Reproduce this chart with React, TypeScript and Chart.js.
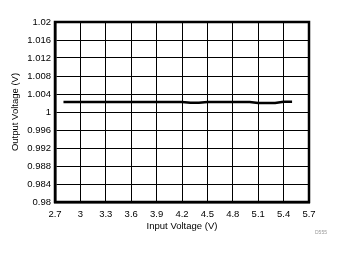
import React, { useEffect, useRef } from "react";
import { Chart, registerables } from "chart.js";

Chart.register(...registerables);

const inputVoltage = [2.8, 2.9, 3.0, 3.1, 3.2, 3.3, 3.4, 3.5, 3.6, 3.7, 3.8, 3.9, 4.0, 4.1, 4.2, 4.3, 4.4, 4.5, 4.6, 4.7, 4.8, 4.9, 5.0, 5.1, 5.2, 5.3, 5.4, 5.5];
const outputVoltage = [1.00222, 1.00222, 1.00222, 1.00222, 1.00222, 1.00222, 1.00222, 1.00222, 1.00222, 1.00222, 1.00222, 1.00222, 1.00222, 1.00222, 1.00222, 1.00207, 1.00207, 1.00222, 1.00222, 1.00222, 1.00222, 1.00222, 1.00222, 1.002, 1.002, 1.002, 1.00229, 1.00229];

const xTicks = [2.7, 3.0, 3.3, 3.6, 3.9, 4.2, 4.5, 4.8, 5.1, 5.4, 5.7];
const xTickLabels = ["2.7", "3", "3.3", "3.6", "3.9", "4.2", "4.5", "4.8", "5.1", "5.4", "5.7"];
const yTicks = [0.98, 0.984, 0.988, 0.992, 0.996, 1.0, 1.004, 1.008, 1.012, 1.016, 1.02];
const yTickLabels = ["0.98", "0.984", "0.988", "0.992", "0.996", "1", "1.004", "1.008", "1.012", "1.016", "1.02"];

const xTitle = "Input Voltage (V)";
const yTitle = "Output Voltage (V)";
const figureId = "D555";

export default function App() {
  const canvasRef = useRef<HTMLCanvasElement | null>(null);

  useEffect(() => {
    document.body.style.margin = "0";
    const canvas = canvasRef.current;
    if (!canvas) return;

    const framePlugin = {
      id: "frame",
      afterDraw(chart: any) {
        const { ctx, chartArea } = chart;
        ctx.save();
        ctx.strokeStyle = "#000";
        ctx.lineWidth = 2.5;
        ctx.strokeRect(chartArea.left, chartArea.top, chartArea.right - chartArea.left, chartArea.bottom - chartArea.top);
        ctx.fillStyle = "#999";
        ctx.font = "5px 'Liberation Sans', Arial, sans-serif";
        ctx.textAlign = "left";
        ctx.textBaseline = "middle";
        ctx.fillText(figureId, 315, 233);
        ctx.restore();
      },
    };

    const chart = new Chart(canvas, {
      type: "line",
      data: {
        datasets: [
          {
            data: inputVoltage.map((x, i) => ({ x, y: outputVoltage[i] })),
            borderColor: "#000",
            borderWidth: 2.5,
            pointRadius: 0,
            tension: 0,
            fill: false,
          },
        ],
      },
      options: {
        animation: false,
        responsive: false,
        maintainAspectRatio: false,
        layout: { padding: { top: 22, right: 34, left: 0, bottom: 0 } },
        plugins: { legend: { display: false }, tooltip: { enabled: false } },
        scales: {
          x: {
            type: "linear",
            min: 2.7,
            max: 5.7,
            afterBuildTicks: (axis: any) => {
              axis.ticks = xTicks.map((v) => ({ value: v }));
            },
            afterFit: (axis: any) => {
              axis.height = 52;
            },
            ticks: {
              color: "#000",
              font: { family: "'Liberation Sans', Arial, sans-serif", size: 9.5 },
              padding: 7,
              maxRotation: 0,
              autoSkip: false,
              callback: (_v: any, i: number) => xTickLabels[i],
            },
            grid: { color: "#000", lineWidth: 1, drawTicks: false },
            border: { display: true, color: "#000", width: 2.5 },
            title: {
              display: true,
              text: xTitle,
              color: "#000",
              font: { family: "'Liberation Sans', Arial, sans-serif", size: 9.5 },
              padding: { top: 0, bottom: 22 },
            },
          },
          y: {
            type: "linear",
            min: 0.98,
            max: 1.02,
            afterBuildTicks: (axis: any) => {
              axis.ticks = yTicks.map((v) => ({ value: v }));
            },
            afterFit: (axis: any) => {
              axis.width = 55;
            },
            ticks: {
              color: "#000",
              font: { family: "'Liberation Sans', Arial, sans-serif", size: 9.5 },
              padding: 4,
              autoSkip: false,
              callback: (_v: any, i: number) => yTickLabels[i],
            },
            grid: { color: "#000", lineWidth: 1, drawTicks: false },
            border: { display: true, color: "#000", width: 2.5 },
            title: {
              display: true,
              text: yTitle,
              color: "#000",
              font: { family: "'Liberation Sans', Arial, sans-serif", size: 9.5 },
              padding: { top: 10, bottom: 0 },
            },
          },
        },
      },
      plugins: [framePlugin],
    });

    return () => chart.destroy();
  }, []);

  return (
    <div style={{ position: "absolute", left: 0, top: 0, width: 343, height: 254, background: "#fff" }}>
      <canvas ref={canvasRef} width={343} height={254} style={{ width: 343, height: 254, display: "block" }} />
    </div>
  );
}
